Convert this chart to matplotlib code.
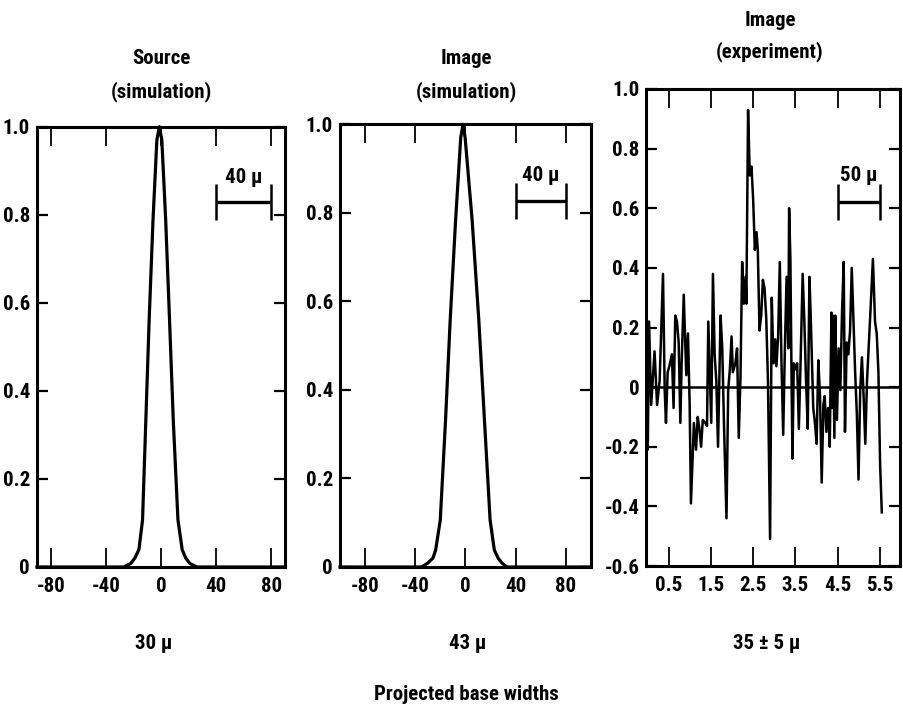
import matplotlib
matplotlib.use("Agg")
import matplotlib.pyplot as plt

plt.rcParams['font.family'] = ['Roboto Condensed', 'Liberation Sans Narrow', 'DejaVu Sans']
plt.rcParams['font.stretch'] = 'condensed'
plt.rcParams['font.weight'] = 'bold'

# ---------------- data ----------------
source_x = [-90, -27, -22, -19, -16, -13.4, -11.0, -8.6, -5.8, -3.0, -1.2, 0.6, 3.4, 6.2, 8.9, 12.3, 15.4, 18, 21, 26, 90]
source_y = [0, 0, 0.008, 0.02, 0.04, 0.107, 0.334, 0.561, 0.788, 0.97, 1.0, 0.97, 0.788, 0.561, 0.334, 0.107, 0.039, 0.02, 0.008, 0, 0]

image_x = [-100, -35, -30, -26, -23.8, -20.1, -15.9, -12.2, -7.9, -3.8, -2.0, -0.3, 5.3, 10.6, 15.1, 19.6, 23.0, 26, 29, 33, 100]
image_y = [0, 0, 0.009, 0.02, 0.038, 0.106, 0.332, 0.558, 0.783, 0.97, 1.0, 0.97, 0.783, 0.558, 0.332, 0.106, 0.038, 0.02, 0.009, 0, 0]

exp_x = [0.00, 0.01, 0.04, 0.09, 0.13, 0.17, 0.23, 0.29, 0.37, 0.41, 0.44, 0.48, 0.52, 0.58, 0.62, 0.66,
         0.70, 0.74, 0.78, 0.81, 0.86, 0.92, 0.96, 1.00, 1.03, 1.10, 1.15, 1.19, 1.23, 1.27, 1.31, 1.37,
         1.41, 1.44, 1.47, 1.51, 1.55, 1.59, 1.63, 1.67, 1.73, 1.77, 1.81, 1.87, 1.91, 1.95, 1.99, 2.02,
         2.08, 2.12, 2.16, 2.20, 2.24, 2.28, 2.32, 2.34, 2.38, 2.42, 2.46, 2.50, 2.54, 2.58, 2.61, 2.65,
         2.69, 2.73, 2.77, 2.81, 2.85, 2.90, 2.94, 2.98, 3.02, 3.05, 3.09, 3.13, 3.17, 3.21, 3.25, 3.29,
         3.33, 3.35, 3.38, 3.41, 3.43, 3.46, 3.50, 3.54, 3.58, 3.62, 3.67, 3.71, 3.75, 3.79, 3.83, 3.86,
         3.92, 3.96, 4.00, 4.04, 4.08, 4.12, 4.16, 4.19, 4.23, 4.27, 4.31, 4.35, 4.36, 4.38, 4.42, 4.44,
         4.48, 4.52, 4.56, 4.60, 4.64, 4.67, 4.71, 4.75, 4.79, 4.83, 4.87, 4.91, 4.95, 4.99, 5.03, 5.07,
         5.11, 5.15, 5.19, 5.26, 5.33, 5.38, 5.42, 5.46, 5.50, 5.54]
exp_y = [-0.01, -0.21, 0.22, -0.06, 0.03, 0.12, -0.06, 0.02, 0.38, -0.01, -0.12, 0.05, 0.07, 0.11, -0.07, 0.24,
         0.22, 0.15, -0.12, 0.08, 0.31, 0.04, 0.18, -0.06, -0.39, -0.12, -0.21, -0.10, -0.14, -0.20, -0.11, -0.12,
         -0.13, 0.22, 0.07, -0.12, 0.38, 0.11, 0.02, -0.20, 0.24, 0.13, -0.12, -0.44, -0.01, 0.06, 0.17, 0.05,
         0.08, 0.13, -0.17, 0.03, 0.42, 0.28, 0.37, 0.28, 0.93, 0.71, 0.74, 0.63, 0.46, 0.52, 0.46, 0.19,
         0.24, 0.36, 0.33, 0.23, 0.02, -0.51, 0.30, 0.08, 0.16, 0.07, 0.17, 0.42, 0.08, -0.16, 0.13, 0.37,
         0.13, 0.60, 0.43, -0.01, -0.24, 0.08, 0.06, 0.08, -0.14, 0.08, 0.38, 0.22, 0.02, -0.14, 0.37, 0.24,
         -0.07, -0.12, -0.19, 0.09, -0.03, -0.32, -0.06, -0.03, -0.15, -0.07, -0.20, 0.25, -0.07, 0.24, -0.17, 0.24,
         -0.11, 0.13, -0.01, 0.25, 0.42, -0.15, 0.15, 0.11, 0.19, 0.40, 0.22, 0.05, -0.09, -0.31, -0.01, 0.10,
         -0.03, -0.19, 0.02, 0.22, 0.43, 0.22, 0.18, 0.05, -0.26, -0.42]

sim_xticks = [-80, -40, 0, 40, 80]
sim_yticks = [0, 0.2, 0.4, 0.6, 0.8, 1.0]
sim_yticklabels = ['0', '0.2', '0.4', '0.6', '0.8', '1.0']
exp_xticks = [0.5, 1.5, 2.5, 3.5, 4.5, 5.5]
exp_yticks = [-0.6, -0.4, -0.2, 0, 0.2, 0.4, 0.6, 0.8, 1.0]
exp_yticklabels = ['-0.6', '-0.4', '-0.2', '0', '0.2', '0.4', '0.6', '0.8', '1.0']

titles = [("Source", "(simulation)"), ("Image", "(simulation)"), ("Image", "(experiment)")]
widths = ["30 \u03bc", "43 \u03bc", "35 \u00b1 5 \u03bc"]
bar_labels = ["40 \u03bc", "40 \u03bc", "50 \u03bc"]
bar_spans = [(40, 80), (40, 80), (4.5, 5.5)]
bar_levels = [0.828, 0.826, 0.62]
bar_text_levels = [0.885, 0.885, 0.71]

# ---------------- figure ----------------
W, H = 904, 714
fig = plt.figure(figsize=(W / 100, H / 100), dpi=100)

def fr(l, t, r, b):
    return [l / W, 1 - b / H, (r - l) / W, (b - t) / H]

ax1 = fig.add_axes(fr(37, 126.7, 285, 567))
ax2 = fig.add_axes(fr(340, 124.3, 591, 567))
ax3 = fig.add_axes(fr(646.5, 89, 900, 566))
axes = [ax1, ax2, ax3]

FS = 15
LW_SP = 2.2

ax1.plot(source_x, source_y, color='black', lw=2.3, solid_joinstyle='round', clip_on=False)
ax2.plot(image_x, image_y, color='black', lw=2.3, solid_joinstyle='round', clip_on=False)
ax3.plot(exp_x, exp_y, color='black', lw=1.8)
ax3.axhline(0, color='black', lw=1.8)

ax1.set_xlim(-90, 90)
ax2.set_xlim(-100, 100)
ax3.set_xlim(-0.02, 5.97)
for ax in (ax1, ax2):
    ax.set_ylim(0, 1.0)
    ax.set_xticks(sim_xticks)
    ax.set_xticklabels([str(t) for t in sim_xticks])
    ax.set_yticks(sim_yticks)
    ax.set_yticklabels(sim_yticklabels)
ax3.set_ylim(-0.6, 1.0)
ax3.set_xticks(exp_xticks)
ax3.set_xticklabels([str(t) for t in exp_xticks])
ax3.set_yticks(exp_yticks)
ax3.set_yticklabels(exp_yticklabels)

for i, ax in enumerate(axes):
    for s in ax.spines.values():
        s.set_linewidth(LW_SP)
    ax.tick_params(axis='x', direction='in', length=14, width=1.3, top=True, bottom=True,
                   labelsize=FS, pad=7)
    ax.tick_params(axis='y', direction='in', length=8, width=1.6, left=True, right=True,
                   labelsize=FS, pad=5)
    a, b = bar_spans[i]
    ax.errorbar([(a + b) / 2], [bar_levels[i]], xerr=[(b - a) / 2], color='black',
                elinewidth=2.4, capsize=13, capthick=1.8, fmt='none')
    ax.text((a + b) / 2, bar_text_levels[i], bar_labels[i], ha='center', va='center', fontsize=FS)

title_x = [161, 466, 770]
title_base = [(64, 97), (64, 97), (26, 57)]
for i in range(3):
    l1, l2 = titles[i]
    b1, b2 = title_base[i]
    fig.text(title_x[i] / W, 1 - b1 / H, l1, ha='center', va='baseline', fontsize=FS)
    fig.text(title_x[i] / W, 1 - b2 / H, l2, ha='center', va='baseline', fontsize=FS)

width_x = [154, 468, 767]
for i in range(3):
    fig.text(width_x[i] / W, 1 - 649 / H, widths[i], ha='center', va='baseline', fontsize=FS)

fig.text(466 / W, 1 - 700 / H, "Projected base widths", ha='center', va='baseline', fontsize=FS)

fig.savefig("out.png", dpi=100)
